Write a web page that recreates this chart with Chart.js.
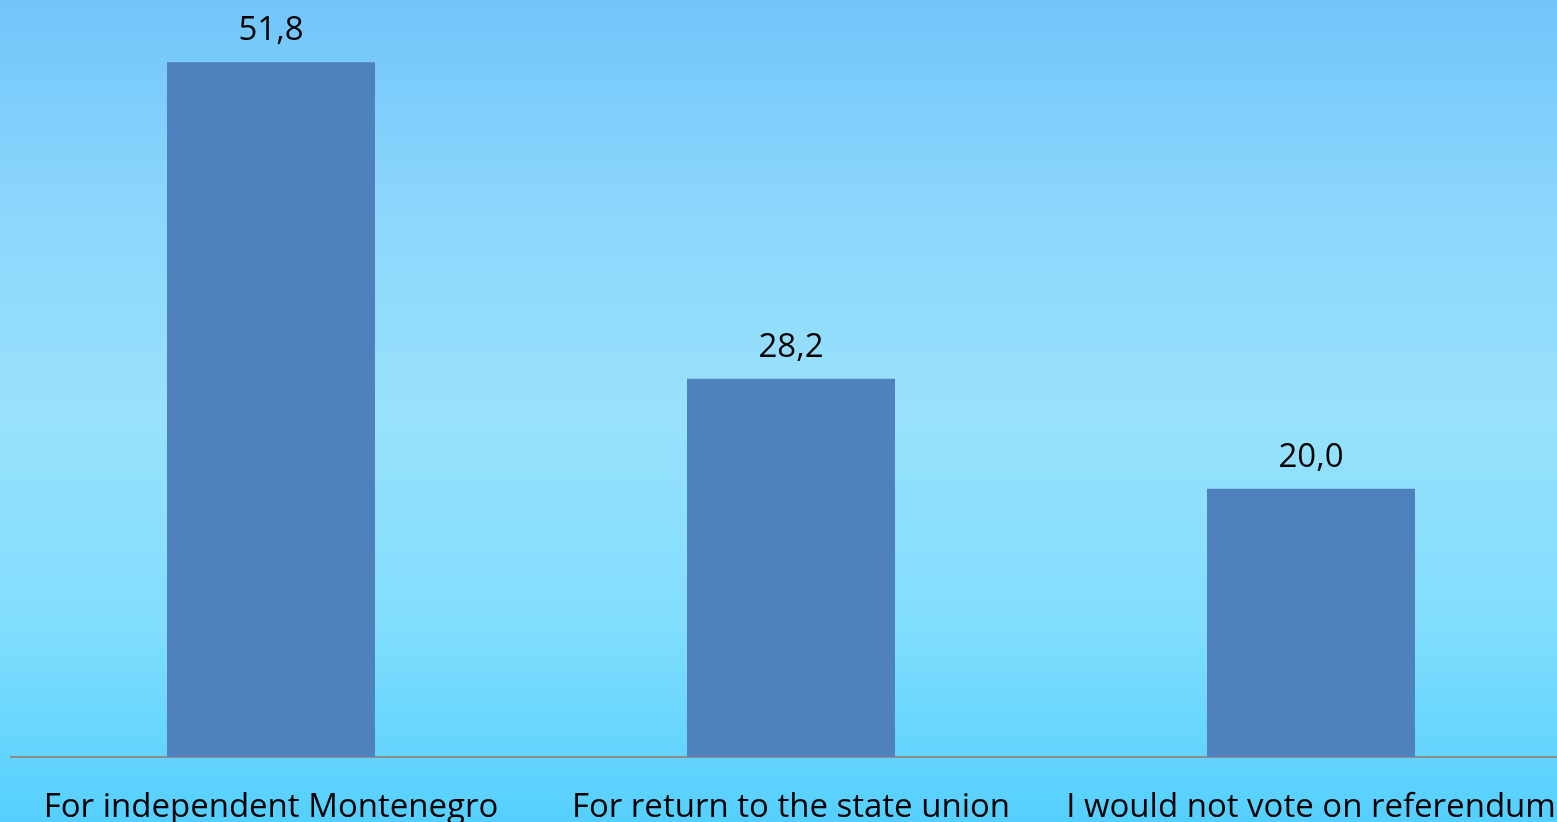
<!DOCTYPE html>
<html>
<head>
<meta charset="utf-8">
<script src="https://cdn.jsdelivr.net/npm/chart.js@4"></script>
<style>
  html, body { margin: 0; padding: 0; overflow: hidden; width: 1557px; height: 822px; }
  body { background: linear-gradient(to bottom, #71C5FB 0%, #8BD6FC 25%, #98E1FC 50%, #82DEFD 75%, #55CFFE 100%); }
  #wrap { position: absolute; left: 0; top: 0; width: 1571px; height: 840px; }
</style>
</head>
<body>
<div id="wrap"><canvas id="c"></canvas></div>
<script>
const categories = ["For independent Montenegro", "For return to the state union", "I would not vote on referendum"];
const values = [51.8, 28.2, 20.0];
const yMin = 0;
const yMax = 56;

const CANVAS_H = 840;
const AXIS_Y = 757;

const valueLabels = {
  id: 'valueLabels',
  afterDatasetsDraw(chart) {
    const ctx = chart.ctx;
    const meta = chart.getDatasetMeta(0);
    ctx.save();
    ctx.fillStyle = '#000000';
    ctx.font = '33px "Open Sans"';
    ctx.textAlign = 'center';
    ctx.textBaseline = 'alphabetic';
    meta.data.forEach((bar, i) => {
      const txt = values[i].toFixed(1).replace('.', ',');
      ctx.fillText(txt, bar.x, bar.y - 22);
    });
    ctx.restore();
  }
};

new Chart(document.getElementById('c'), {
  type: 'bar',
  data: {
    labels: categories,
    datasets: [{
      data: values,
      backgroundColor: '#4F81BD',
      borderWidth: 0,
      barPercentage: 0.4,
      categoryPercentage: 1.0
    }]
  },
  options: {
    responsive: true,
    maintainAspectRatio: false,
    animation: false,
    layout: { padding: { left: 11, right: 0, top: 6, bottom: 0 } },
    plugins: { legend: { display: false }, tooltip: { enabled: false } },
    scales: {
      x: {
        grid: { display: false, drawTicks: false },
        border: { display: true, color: '#8C8C8C', width: 2 },
        ticks: { color: '#000000', font: { family: '"Open Sans"', size: 33 }, padding: 31, maxRotation: 0, autoSkip: false },
        afterFit(scale) {
          scale.height = CANVAS_H - AXIS_Y;
          scale.paddingLeft = 0;
          scale.paddingRight = 0;
        }
      },
      y: {
        display: false,
        min: yMin,
        max: yMax
      }
    }
  },
  plugins: [valueLabels]
});
</script>
</body>
</html>
